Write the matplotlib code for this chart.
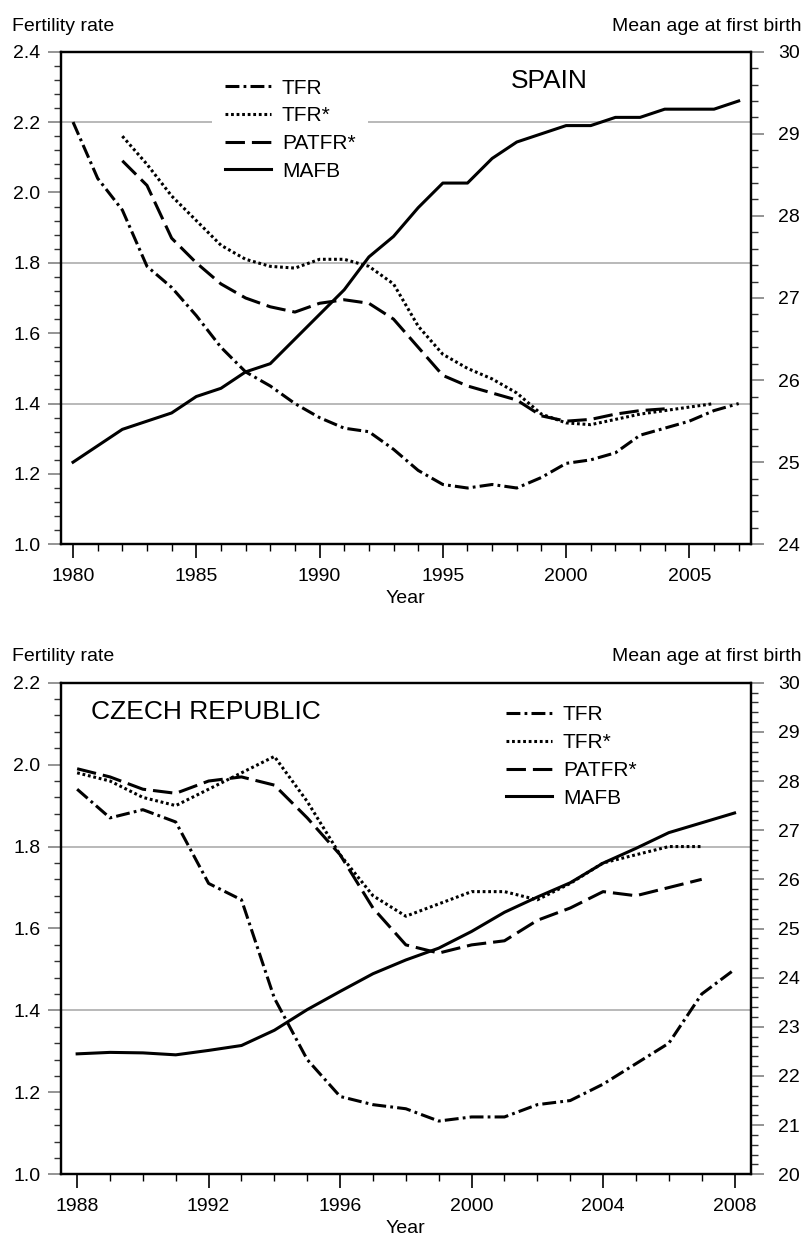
import matplotlib
matplotlib.use("Agg")
import matplotlib.pyplot as plt
from matplotlib.lines import Line2D
from matplotlib.ticker import MultipleLocator

plt.rcParams['font.family'] = ['Liberation Sans', 'DejaVu Sans']
plt.rcParams['lines.scale_dashes'] = False

# ---- data ----
spain_years = list(range(1980, 2008))
spain_tfr = [2.20, 2.04, 1.95, 1.79, 1.73, 1.65, 1.56, 1.49, 1.45, 1.40, 1.36, 1.33, 1.32, 1.27,
             1.21, 1.17, 1.16, 1.17, 1.16, 1.19, 1.23, 1.24, 1.26, 1.31, 1.33, 1.35, 1.38, 1.40]
spain_star_years = list(range(1982, 2007))
spain_tfr_star = [2.16, 2.08, 1.99, 1.92, 1.85, 1.81, 1.79, 1.785, 1.81, 1.81, 1.79, 1.74, 1.62,
                  1.54, 1.50, 1.47, 1.43, 1.37, 1.345, 1.34, 1.355, 1.37, 1.38, 1.39, 1.40]
spain_pat_years = list(range(1982, 2005))
spain_patfr = [2.09, 2.02, 1.87, 1.80, 1.74, 1.70, 1.675, 1.66, 1.685, 1.695, 1.685, 1.64, 1.56,
               1.48, 1.45, 1.43, 1.41, 1.365, 1.35, 1.355, 1.37, 1.38, 1.385]
spain_mafb = [25.0, 25.2, 25.4, 25.5, 25.6, 25.8, 25.9, 26.1, 26.2, 26.5, 26.8, 27.1, 27.5, 27.75,
              28.1, 28.4, 28.4, 28.7, 28.9, 29.0, 29.1, 29.1, 29.2, 29.2, 29.3, 29.3, 29.3, 29.4]

cz_years = list(range(1988, 2009))
cz_tfr = [1.94, 1.87, 1.89, 1.86, 1.71, 1.67, 1.43, 1.28, 1.19, 1.17, 1.16, 1.13, 1.14, 1.14,
          1.17, 1.18, 1.22, 1.27, 1.32, 1.44, 1.50]
cz_star_years = list(range(1988, 2008))
cz_tfr_star = [1.98, 1.96, 1.92, 1.90, 1.94, 1.98, 2.02, 1.91, 1.78, 1.68, 1.63, 1.66, 1.69, 1.69,
               1.67, 1.71, 1.76, 1.78, 1.80, 1.80]
cz_patfr = [1.99, 1.97, 1.94, 1.93, 1.96, 1.97, 1.95, 1.87, 1.78, 1.65, 1.56, 1.54, 1.56, 1.57,
            1.62, 1.65, 1.69, 1.68, 1.70, 1.72]
cz_mafb = [22.45, 22.48, 22.47, 22.43, 22.52, 22.62, 22.93, 23.35, 23.72, 24.08, 24.36, 24.60,
           24.94, 25.33, 25.64, 25.93, 26.33, 26.63, 26.95, 27.15, 27.35]

labels = ['TFR', 'TFR*', 'PATFR*', 'MAFB']

W, H = 805, 1243
LW = 2.2
st_tfr = (0, (10, 3, 2, 3))
st_star = (0, (2, 2))
st_pat = (0, (14, 5))


def px(x, y):
    return x / W, 1 - y / H


def style_axes(ax, ax2):
    for a in (ax, ax2):
        for s in a.spines.values():
            s.set_linewidth(1.6)
            s.set_color('black')
    ax.tick_params(axis='y', which='major', length=9.5, width=1.1, color='#777777',
                   labelsize=14, pad=5)
    ax.tick_params(axis='y', which='minor', length=4.8, width=1.0, color='#333333')
    ax.tick_params(axis='x', which='major', length=10, width=1.2, color='black',
                   labelsize=14, pad=7)
    ax.tick_params(axis='x', which='minor', length=5, width=1.0, color='black')
    ax2.tick_params(axis='y', which='major', length=9.5, width=1.1, color='#777777',
                    labelsize=14, pad=10)
    ax2.tick_params(axis='y', which='minor', length=4.8, width=1.0, color='#333333')


def panel(rect, yrs, tfr, star_yrs, star, pat_yrs, pat, mafb, ylim, y2lim, xlim, xmajor,
          title, title_xy, leg_xy, label_y):
    ax = fig.add_axes(rect)
    ax2 = ax.twinx()
    for g in (1.4, 1.8, 2.2):
        ax.axhline(g, color='#a6a6a6', lw=1.1, zorder=0)
    ax.plot(yrs, tfr, color='black', lw=LW, linestyle=st_tfr)
    ax.plot(star_yrs, star, color='black', lw=LW, linestyle=st_star)
    ax.plot(pat_yrs, pat, color='black', lw=LW, linestyle=st_pat)
    ax2.plot(yrs, mafb, color='black', lw=LW, linestyle='-')
    ax.set_xlim(*xlim)
    ax.set_ylim(*ylim)
    ax2.set_ylim(*y2lim)
    ax.xaxis.set_major_locator(MultipleLocator(xmajor))
    ax.xaxis.set_minor_locator(MultipleLocator(1))
    ax.yaxis.set_major_locator(MultipleLocator(0.2))
    ax.yaxis.set_minor_locator(MultipleLocator(0.04))
    ax.yaxis.set_major_formatter(matplotlib.ticker.FormatStrFormatter('%.1f'))
    ax2.yaxis.set_major_locator(MultipleLocator(1))
    ax2.yaxis.set_minor_locator(MultipleLocator(0.2))
    style_axes(ax, ax2)
    ax.set_xlabel('Year', fontsize=14, labelpad=4)

    ax2.text(*px(*title_xy), title, transform=fig.transFigure, fontsize=19,
             ha='left', va='baseline')

    handles = [Line2D([], [], color='black', lw=LW, linestyle=s)
               for s in (st_tfr, st_star, st_pat, '-')]
    leg = ax2.legend(handles, labels, loc='upper left', bbox_to_anchor=px(*leg_xy),
                     bbox_transform=fig.transFigure, borderaxespad=0, borderpad=0.6,
                     fontsize=15, handlelength=2.25, handletextpad=0.5, labelspacing=0.42,
                     frameon=True, fancybox=False, edgecolor='none', facecolor='white',
                     framealpha=1)
    leg.set_zorder(5)

    fig.text(*px(12, label_y), 'Fertility rate', fontsize=14, ha='left', va='baseline')
    fig.text(*px(801, label_y), 'Mean age at first birth', fontsize=14, ha='right',
             va='baseline')
    return ax, ax2


fig = plt.figure(figsize=(W / 100, H / 100), dpi=100)

left = 60.7 / W
width = (751 - 60.7) / W

panel([left, 1 - 544.3 / H, width, (544.3 - 51.7) / H],
      spain_years, spain_tfr, spain_star_years, spain_tfr_star, spain_pat_years, spain_patfr,
      spain_mafb, (1.0, 2.4), (24, 30), (1979.5, 2007.5), 5,
      'SPAIN', (511, 88), (212, 66), 31)

panel([left, 1 - 1174.3 / H, width, (1174.3 - 682.7) / H],
      cz_years, cz_tfr, cz_star_years, cz_tfr_star, cz_star_years, cz_patfr,
      cz_mafb, (1.0, 2.2), (20, 30), (1987.5, 2008.5), 4,
      'CZECH REPUBLIC', (91, 719), (493, 693), 661)

fig.savefig('out.png', dpi=100)
